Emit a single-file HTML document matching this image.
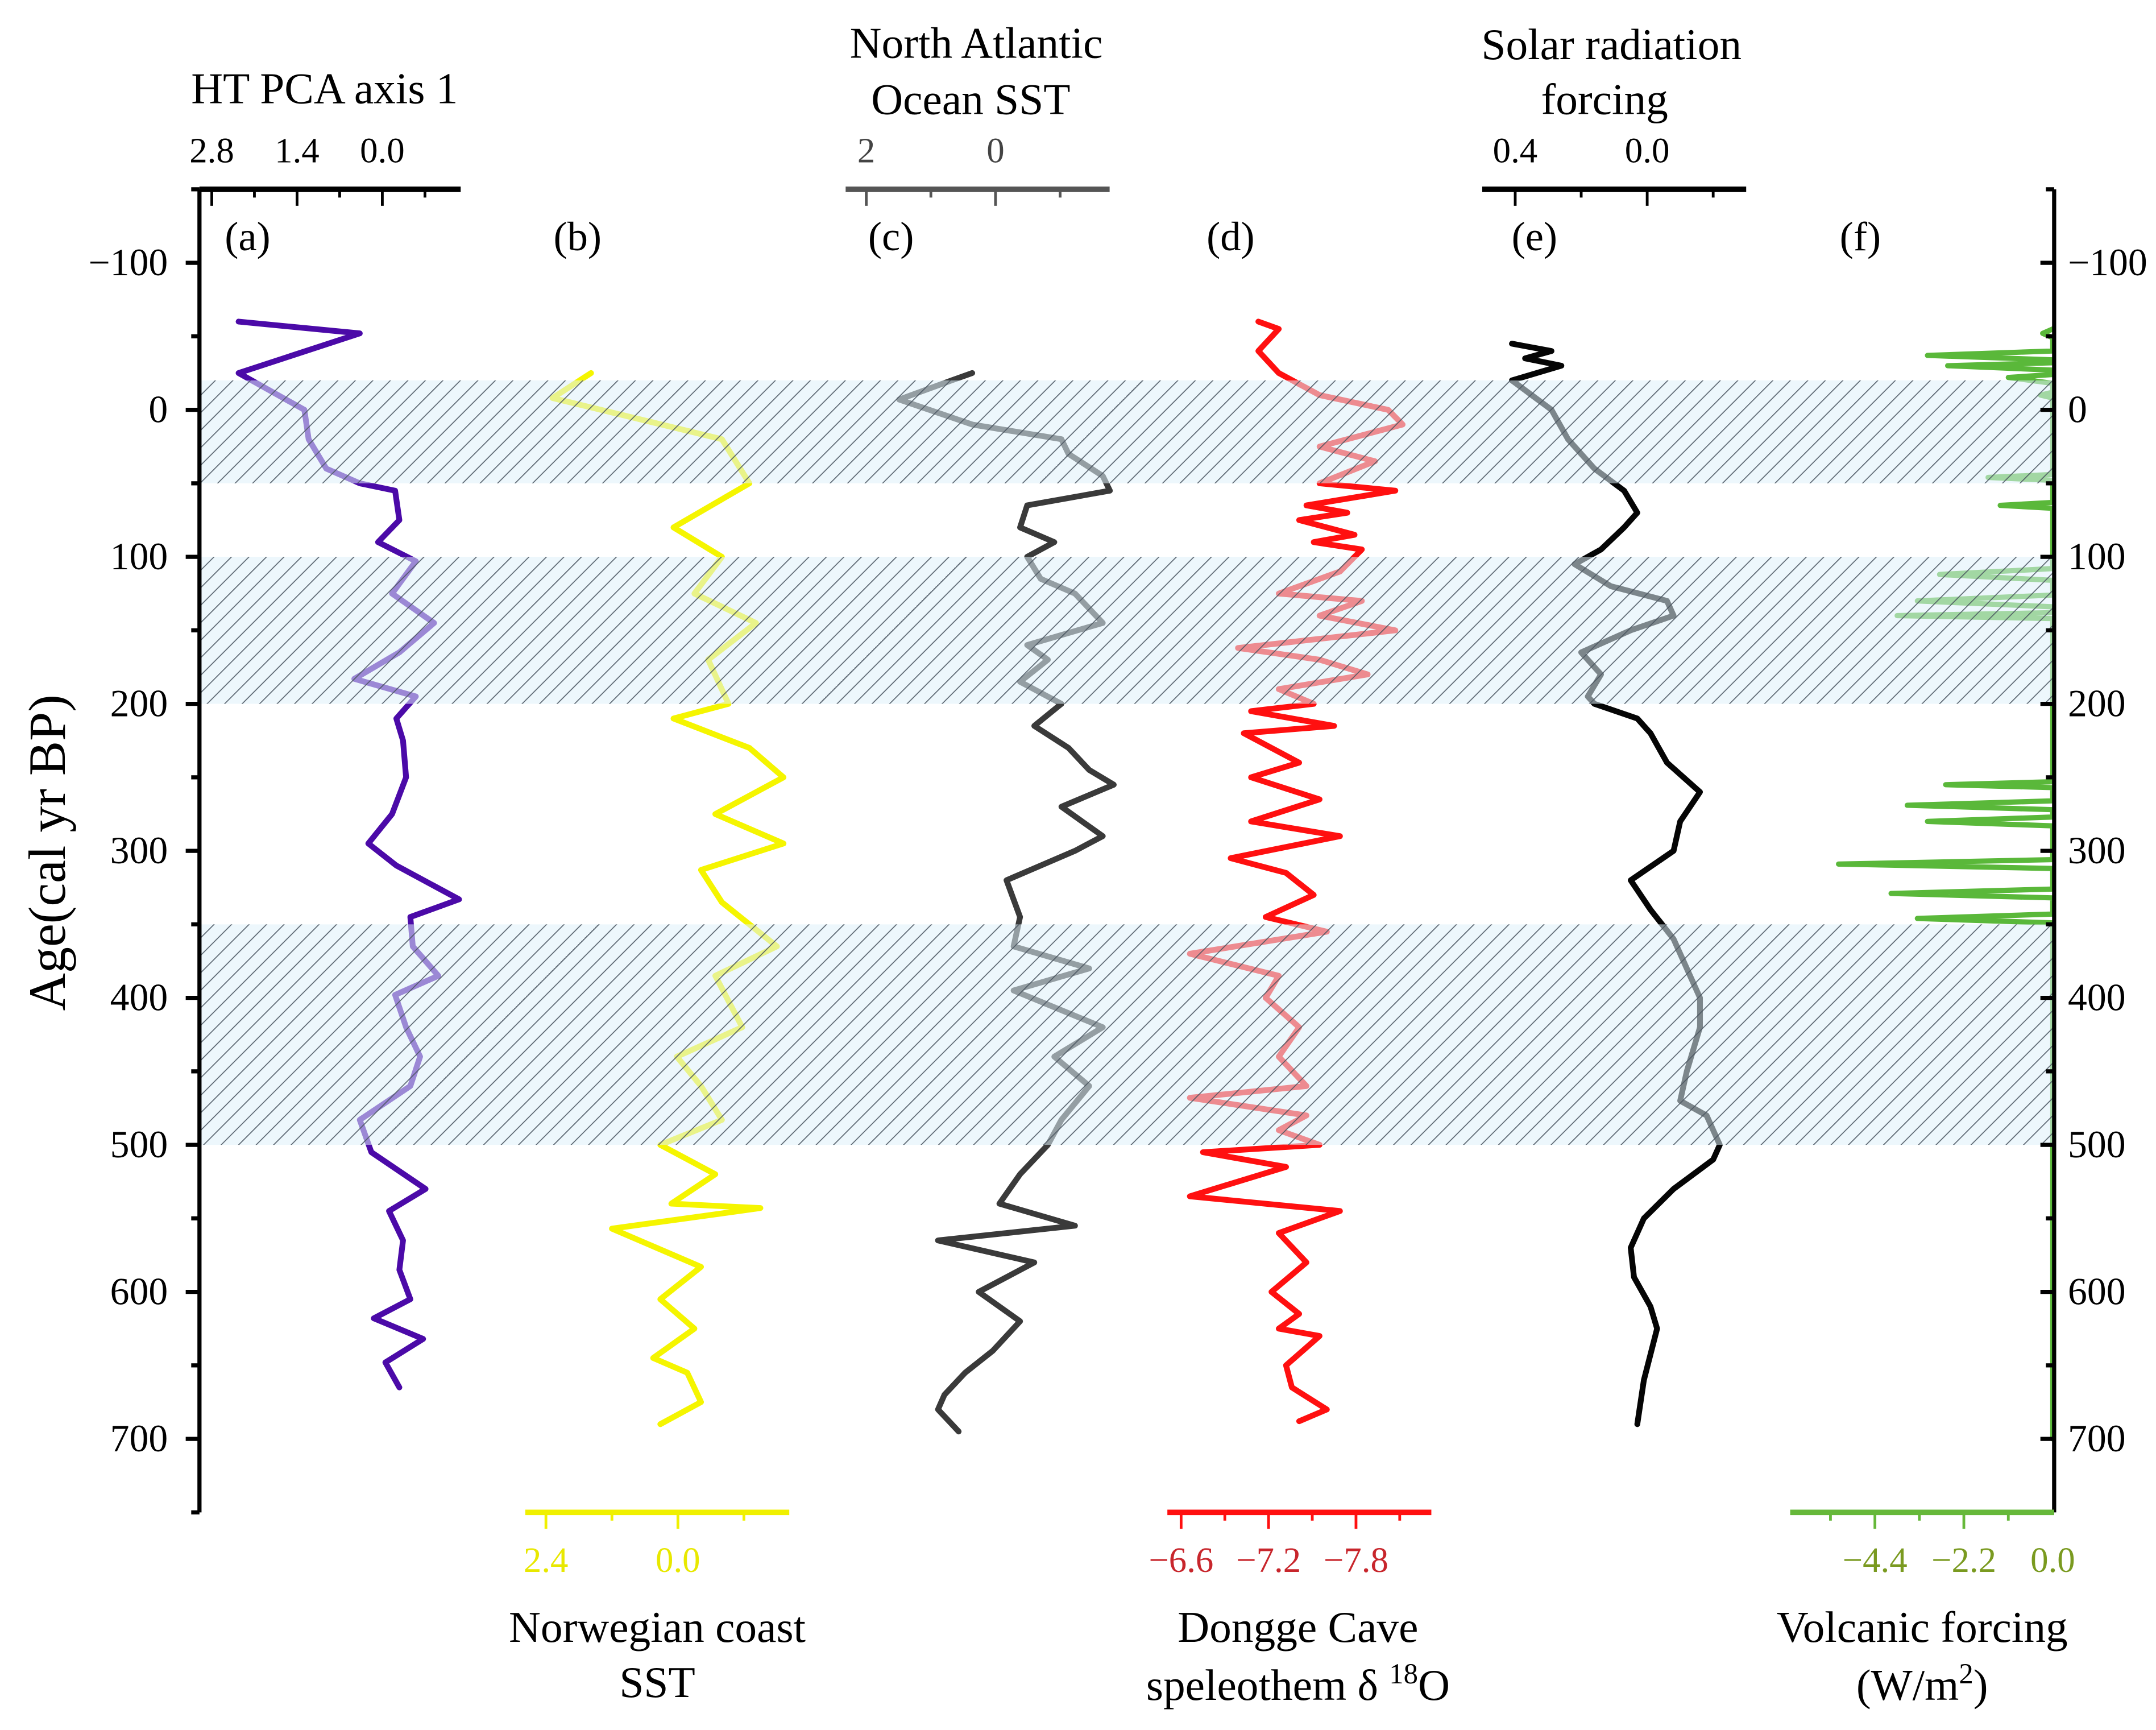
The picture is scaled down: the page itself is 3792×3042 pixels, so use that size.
<!DOCTYPE html>
<html><head><meta charset="utf-8"><style>
html,body{margin:0;padding:0;background:#fff}
svg{display:block}
text{font-family:"Liberation Serif",serif}
</style></head><body>
<svg id="chart" xmlns="http://www.w3.org/2000/svg" width="3792" height="3042" viewBox="0 0 1568 1258">
<defs>
<pattern id="hatch" patternUnits="userSpaceOnUse" width="9" height="9" patternTransform="rotate(45)">
<line x1="0" y1="0" x2="0" y2="9" stroke="#4a5560" stroke-width="1.4"/>
</pattern>
</defs>
<g id="series"></g>
<g id="bands"></g>
<g id="axes"></g>
</svg>
<script>
// ===== data =====
const bandStarts = [-20, 100, 350];
const bandEnds = [50, 200, 500];
const ageTicks = [-100, 0, 100, 200, 300, 400, 500, 600, 700];

const aAge = [-60,-52,-25,0,20,40,50,55,75,90,103,125,145,165,183,195,210,225,250,275,295,310,333,345,365,385,398,420,440,460,483,505,530,545,565,585,605,618,632,648,665];
const aVal = [2.36,0.37,2.36,1.28,1.21,0.92,0.37,-0.21,-0.28,0.07,-0.55,-0.16,-0.85,-0.28,0.46,-0.55,-0.23,-0.34,-0.39,-0.16,0.23,-0.23,-1.26,-0.46,-0.50,-0.92,-0.21,-0.39,-0.62,-0.46,0.37,0.18,-0.71,-0.11,-0.34,-0.28,-0.46,0.14,-0.67,-0.05,-0.28];
const aTicks = [2.8, 1.4, 0.0];

const bAge = [-25,-8,20,50,80,100,125,145,170,200,210,230,250,275,295,313,335,365,385,420,440,460,483,500,520,540,543,557,583,605,625,645,655,675,690];
const bVal = [1.58,2.28,-0.80,-1.30,0.08,-0.80,-0.30,-1.42,-0.55,-0.92,0.08,-1.30,-1.92,-0.68,-1.92,-0.42,-0.80,-1.80,-0.68,-1.17,0.02,-0.42,-0.80,0.32,-0.68,0.12,-1.50,1.20,-0.42,0.32,-0.30,0.45,-0.17,-0.42,0.32];
const bTicks = [2.4, 0.0];

const cAge = [-25,-20,-7,10,20,30,45,55,65,80,90,100,115,125,145,160,170,185,200,215,230,245,255,270,290,300,320,345,365,380,395,420,440,460,483,500,520,540,555,565,580,600,620,640,655,670,680,695];
const cVal = [0.36,0.68,1.49,0.36,-1.02,-1.13,-1.66,-1.77,-0.49,-0.38,-0.91,-0.49,-0.70,-1.23,-1.66,-0.49,-0.81,-0.38,-1.02,-0.60,-1.13,-1.45,-1.83,-1.02,-1.66,-1.23,-0.17,-0.38,-0.28,-1.45,-0.28,-1.66,-0.91,-1.45,-1.02,-0.81,-0.38,-0.06,-1.23,0.89,-0.60,0.26,-0.38,0.04,0.47,0.79,0.89,0.57];
const cTicks = [2, 0];

const dAge = [-60,-55,-40,-25,-10,0,10,25,35,50,55,65,70,75,85,90,95,110,125,130,140,150,162,170,180,190,200,205,215,220,240,250,265,280,290,305,315,330,345,355,370,385,400,420,440,460,468,480,490,500,505,515,535,545,560,580,600,615,625,630,650,665,680,688];
const dVal = [-7.13,-7.27,-7.13,-7.27,-7.55,-8.02,-8.12,-7.55,-7.93,-7.55,-8.07,-7.46,-7.74,-7.41,-7.79,-7.51,-7.84,-7.69,-7.27,-7.84,-7.55,-8.07,-6.99,-7.55,-7.88,-7.27,-7.51,-7.08,-7.65,-7.03,-7.41,-7.08,-7.55,-7.08,-7.69,-6.94,-7.32,-7.51,-7.18,-7.60,-6.66,-7.27,-7.18,-7.41,-7.27,-7.46,-6.66,-7.46,-7.27,-7.55,-6.75,-7.32,-6.66,-7.69,-7.27,-7.46,-7.22,-7.41,-7.27,-7.55,-7.32,-7.36,-7.60,-7.41];
const dTicks = [-6.6, -7.2, -7.8];

const eAge = [-45,-40,-35,-30,-20,-10,0,20,40,55,70,80,95,105,120,130,140,150,165,180,195,200,210,220,240,260,280,300,320,340,360,380,400,420,450,470,480,500,510,530,550,570,590,610,625,660,690];
const eVal = [0.41,0.29,0.37,0.26,0.41,0.35,0.29,0.24,0.16,0.07,0.03,0.07,0.14,0.22,0.11,-0.06,-0.08,0.05,0.20,0.14,0.18,0.16,0.03,-0.01,-0.06,-0.16,-0.10,-0.08,0.05,-0.01,-0.08,-0.12,-0.16,-0.16,-0.12,-0.10,-0.18,-0.22,-0.20,-0.08,0.01,0.05,0.04,-0.01,-0.03,0.01,0.03];
const eTicks = [0.4, 0.0];

const fAge = [-55,-52,-49,-40,-37,-34,-32,-30,-27,-24,-22,-18,-12,-10,-8,44,46,48,63,65,67,108,112,116,126,130,134,138,140,142,253,255,257,266,269,272,277,280,283,306,309,312,326,329,332,343,346,349,700];
const fVal = [0,-0.25,0,0,-3.1,0,0,-2.6,0,0,-1.1,0,0,-0.3,0,0,-1.6,0,0,-1.3,0,0,-2.8,0,0,-3.35,0,0,-3.85,0,0,-2.65,0,0,-3.6,0,0,-3.1,0,0,-5.3,0,0,-4.0,0,0,-3.35,0,0];
const fTicks = [-4.4, -2.2, 0.0];

// ===== scales =====
const NS = 'http://www.w3.org/2000/svg';
function yAge(a){ return 298 + a * 1.069; }
function xA(v){ return 278 - v * 44.3; }
function xB(v){ return 493 - v * 40; }
function xC(v){ return 724 - v * 47; }
function xD(v){ return 859 + (-6.6 - v) * 106; }
function xE(v){ return 1198 - v * 240; }
function xF(v){ return 1493 + v * 29.4; }

function el(tag, attrs, parent){
  const e = document.createElementNS(NS, tag);
  for (const k in attrs) e.setAttribute(k, attrs[k]);
  parent.appendChild(e);
  return e;
}
const gS = document.getElementById('series');
const gB = document.getElementById('bands');
const gA = document.getElementById('axes');

function drawSeries(ages, vals, xf, color, name, w){
  const pts = ages.map((a,i)=> xf(vals[i]).toFixed(2)+','+yAge(a).toFixed(2)).join(' ');
  const p = el('polyline', {points: pts, fill:'none', stroke:color, 'stroke-width':w, 'stroke-linejoin':'round', 'stroke-linecap':'round'}, gS);
  
  
}
drawSeries(aAge, aVal, xA, '#4b0aa8', 'series-ht-pca', 4.2);
drawSeries(bAge, bVal, xB, '#f5f500', 'series-norwegian-sst', 4.2);
drawSeries(cAge, cVal, xC, '#3a3a3a', 'series-north-atlantic-sst', 4.2);
drawSeries(dAge, dVal, xD, '#ff1010', 'series-dongge-cave', 4.2);
drawSeries(eAge, eVal, xE, '#050505', 'series-solar-forcing', 4.2);
drawSeries(fAge, fVal, xF, '#5ab83a', 'series-volcanic-forcing', 3.8);

// bands
bandStarts.forEach((s,i)=>{
  const y1 = yAge(s), y2 = yAge(bandEnds[i]);
  const r1 = el('rect', {x:145, y:y1, width:1349, height:y2-y1, fill:'rgba(222,240,250,0.55)'}, gB);
  
  
  const r2 = el('rect', {x:145, y:y1, width:1349, height:y2-y1, fill:'url(#hatch)', opacity:'0.9'}, gB);
  
  
});

function line(x1,y1,x2,y2,c,w){ return el('line',{x1,y1,x2,y2,stroke:c,'stroke-width':w},gA); }
function text(x,y,s,size,anchor,color,name){
  const t = el('text',{x,y,'font-size':size,'text-anchor':anchor||'middle',fill:color||'#000'},gA);
  t.textContent = s;
  
  
  return t;
}

// left & right axes
const yTop = yAge(-150), yBot = yAge(750);
const la = line(145, yTop, 145, yBot, '#000', 3);
 
const ra = line(1494, yTop, 1494, yBot, '#000', 3);
 
for (let a=-150; a<=750; a+=50){
  const major = a % 100 === 0;
  const L = major ? 10 : 6;
  line(145-L, yAge(a), 145, yAge(a), '#000', 3);
  line(1494-L, yAge(a), 1494, yAge(a), '#000', 3);
}
ageTicks.forEach(a=>{
  const s = a < 0 ? '\u2212' + Math.abs(a) : String(a);
  text(122, yAge(a)+9, s, 28, 'end', '#000', 'left-tick-label');
  text(1504, yAge(a)+9, s, 28, 'start', '#000', 'right-tick-label');
});
const yt = text(0,0,'Age(cal yr BP)',38,'middle','#000','y-axis-title');
yt.setAttribute('transform','translate(47,620) rotate(-90)');

// panel axes
function panelAxis(x1,x2,y,scale,ticks,dec,color,labelColor,labelY,name){
  const a = line(x1,y,x2,y,color,4);
   
  const step = ticks[0]-ticks[1];
  const v0 = ticks[0];
  for (let k=-2;k<14;k++){
    const v = v0 - k*step/2;
    const x = scale(v);
    if (x < x1+3 || x > x2-2) continue;
    const major = k%2===0;
    line(x, y, x, y+(major?12:6), color, 2);
  }
  ticks.forEach(v=>{
    const s = (v<0?'\u2212':'') + Math.abs(v).toFixed(dec);
    text(scale(v), labelY, s, 26, 'middle', labelColor, name+'-tick-label');
  });
}
const AT = yAge(-150), AB = yAge(750);
panelAxis(145,335,AT,xA,aTicks,1,'#000','#000',118,'ht-pca');
panelAxis(382,574,AB,xB,bTicks,1,'#f0f000','#e8e800',1143,'norwegian-sst');
panelAxis(615,807,AT,xC,cTicks,0,'#555','#444',118,'north-atlantic-sst');
panelAxis(849,1041,AB,xD,dTicks,1,'#ff1010','#c8262c',1143,'dongge');
panelAxis(1078,1270,AT,xE,eTicks,1,'#000','#000',118,'solar');
panelAxis(1302,1494,AB,xF,fTicks,1,'#66b83a','#7a9a20',1143,'volcanic');

// titles
text(236,75,'HT PCA axis 1',32,'middle','#000','ht-pca-title');
text(710,42,'North Atlantic',32,'middle','#000','north-atlantic-title-line1');
text(706,83,'Ocean SST',32,'middle','#000','north-atlantic-title-line2');
text(1172,43,'Solar radiation',32,'middle','#000','solar-title-line1');
text(1167,83,'forcing',32,'middle','#000','solar-title-line2');
text(478,1194,'Norwegian coast',32,'middle','#000','norwegian-title-line1');
text(478,1234,'SST',32,'middle','#000','norwegian-title-line2');
text(944,1194,'Dongge Cave',32,'middle','#000','dongge-title-line1');
const dt = text(944,1236,'',32,'middle','#000','dongge-title-line2');
dt.innerHTML = 'speleothem \u03b4 <tspan font-size="21" dy="-12">18</tspan><tspan dy="12">O</tspan>';
text(1398,1194,'Volcanic forcing',32,'middle','#000','volcanic-title-line1');
const vt = text(1398,1236,'',32,'middle','#000','volcanic-title-line2');
vt.innerHTML = '(W/m<tspan font-size="21" dy="-12">2</tspan><tspan dy="12">)</tspan>';

// panel letters
[['(a)',180],['(b)',420],['(c)',648],['(d)',895],['(e)',1116],['(f)',1353]].forEach(p=>{
  text(p[1],182,p[0],30,'middle','#000','panel-label');
});
</script>
</body></html>
